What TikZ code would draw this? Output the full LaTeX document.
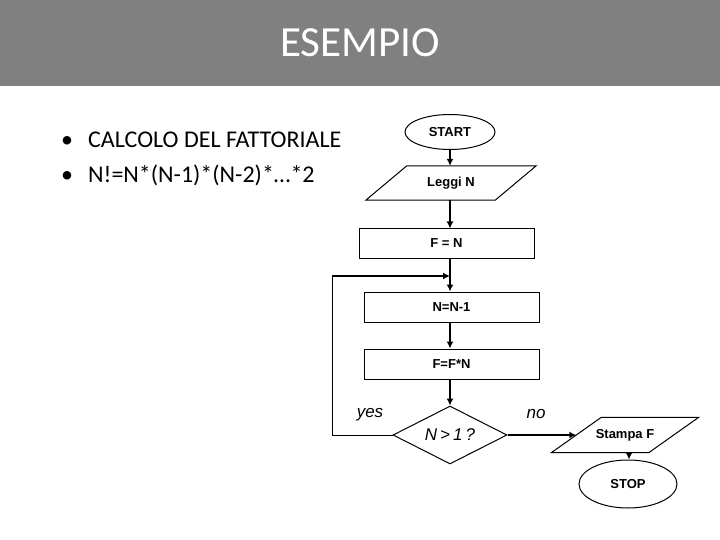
\documentclass[tikz,border=0pt]{standalone}
\usepackage{fontspec}
\setmainfont{Carlito}
\newfontfamily\arialf{Liberation Sans}
\usetikzlibrary{shapes.geometric,arrows.meta,calc}
\definecolor{hdr}{RGB}{128,128,128}
\begin{document}
\begin{tikzpicture}[x=1pt,y=-1pt,
  box/.style={draw, line width=1pt, rectangle, minimum width=175pt, minimum height=30pt, inner sep=0pt, font=\arialf\bfseries\fontsize{13}{15}\selectfont},
  oval/.style={draw, line width=1pt, ellipse, inner sep=0pt, font=\arialf\bfseries\fontsize{13}{15}\selectfont},
  parabody/.style={inner sep=0pt, font=\arialf\bfseries\fontsize{13}{15}\selectfont},
  conn/.style={line width=2pt, -{Latex[length=7pt,width=7pt]}},
  thinline/.style={line width=1pt},
  lbl/.style={font=\arialf\itshape\fontsize{17}{20}\selectfont},
  bul/.style={font=\fontsize{24}{28}\selectfont, inner sep=0pt}]
\useasboundingbox (0,0) rectangle (720,540);
% header
\fill[hdr] (0,0) rectangle (720,86);
\node[anchor=base, text=white, font=\fontsize{43}{50}\selectfont, inner sep=0pt] (title) at (360,57) {ESEMPIO};
% bullets
\node[bul, anchor=base] (b1) at (67,148) {•};
\node[bul, anchor=base west] (t1) at (88,148) {CALCOLO DEL FATTORIALE};
\node[bul, anchor=base] (b2) at (67,183) {•};
\node[bul, anchor=base west] (t2) at (88,183) {N!=N*(N-1)*(N-2)*…*2};
% flowchart
\node[oval, minimum width=90pt, minimum height=35pt] (start) at (450,132) {START};
\node[parabody, minimum width=129pt, minimum height=34pt] (leg) at (451,183) {Leggi N};
\draw[thinline] ($(leg.south west)+(-20.5,0)$) -- ($(leg.south east)+(-20.5,0)$) -- ($(leg.north east)+(20.5,0)$) -- ($(leg.north west)+(20.5,0)$) -- cycle;
\node[box, minimum height=29pt] (fn) at (446.5,243.5) {F = N};
\node[box] (n1) at (451.5,307) {N=N-1};
\node[box] (ff) at (451.5,364) {F=F*N};
\node[diamond, draw, line width=1pt, minimum width=114pt, minimum height=58pt, inner sep=0pt, aspect=2, font=\arialf\itshape\fontsize{17}{19}\selectfont] (dia) at (450,435) {\raisebox{-3pt}{N\kern3pt>\kern3pt1\kern3pt?}};
\node[parabody, minimum width=97pt, minimum height=35pt] (st) at (625,435) {Stampa F};
\draw[thinline] ($(st.south west)+(-25,0)$) -- ($(st.south east)+(-25,0)$) -- ($(st.north east)+(25,0)$) -- ($(st.north west)+(25,0)$) -- cycle;
\node[oval, minimum width=98pt, minimum height=48pt] (stop) at (628,484) {STOP};
% connectors
\coordinate (m) at (450,276);
\coordinate (lx) at (332,276);
\coordinate (sx) at (629,0);
\draw[conn] (start.south -| m) -- (leg.north -| m);
\draw[conn] (leg.south -| m) -- (fn.north -| m);
\draw[conn] (fn.south -| m) -- (n1.north -| m);
\draw[conn] (n1.south -| m) -- (ff.north -| m);
\draw[conn] (ff.south -| m) -- (dia.north);
\draw[thinline] (dia.west) -| (lx);
\draw[conn] (lx) -- (m);
\draw[conn] (dia.east) -- (st.west);
\draw[conn] (st.south -| sx) -- (stop.north -| sx);
% labels
\node[lbl] (yes) at (370,415) {yes};
\node[lbl] (no) at (536,414) {no};
\end{tikzpicture}
\end{document}
